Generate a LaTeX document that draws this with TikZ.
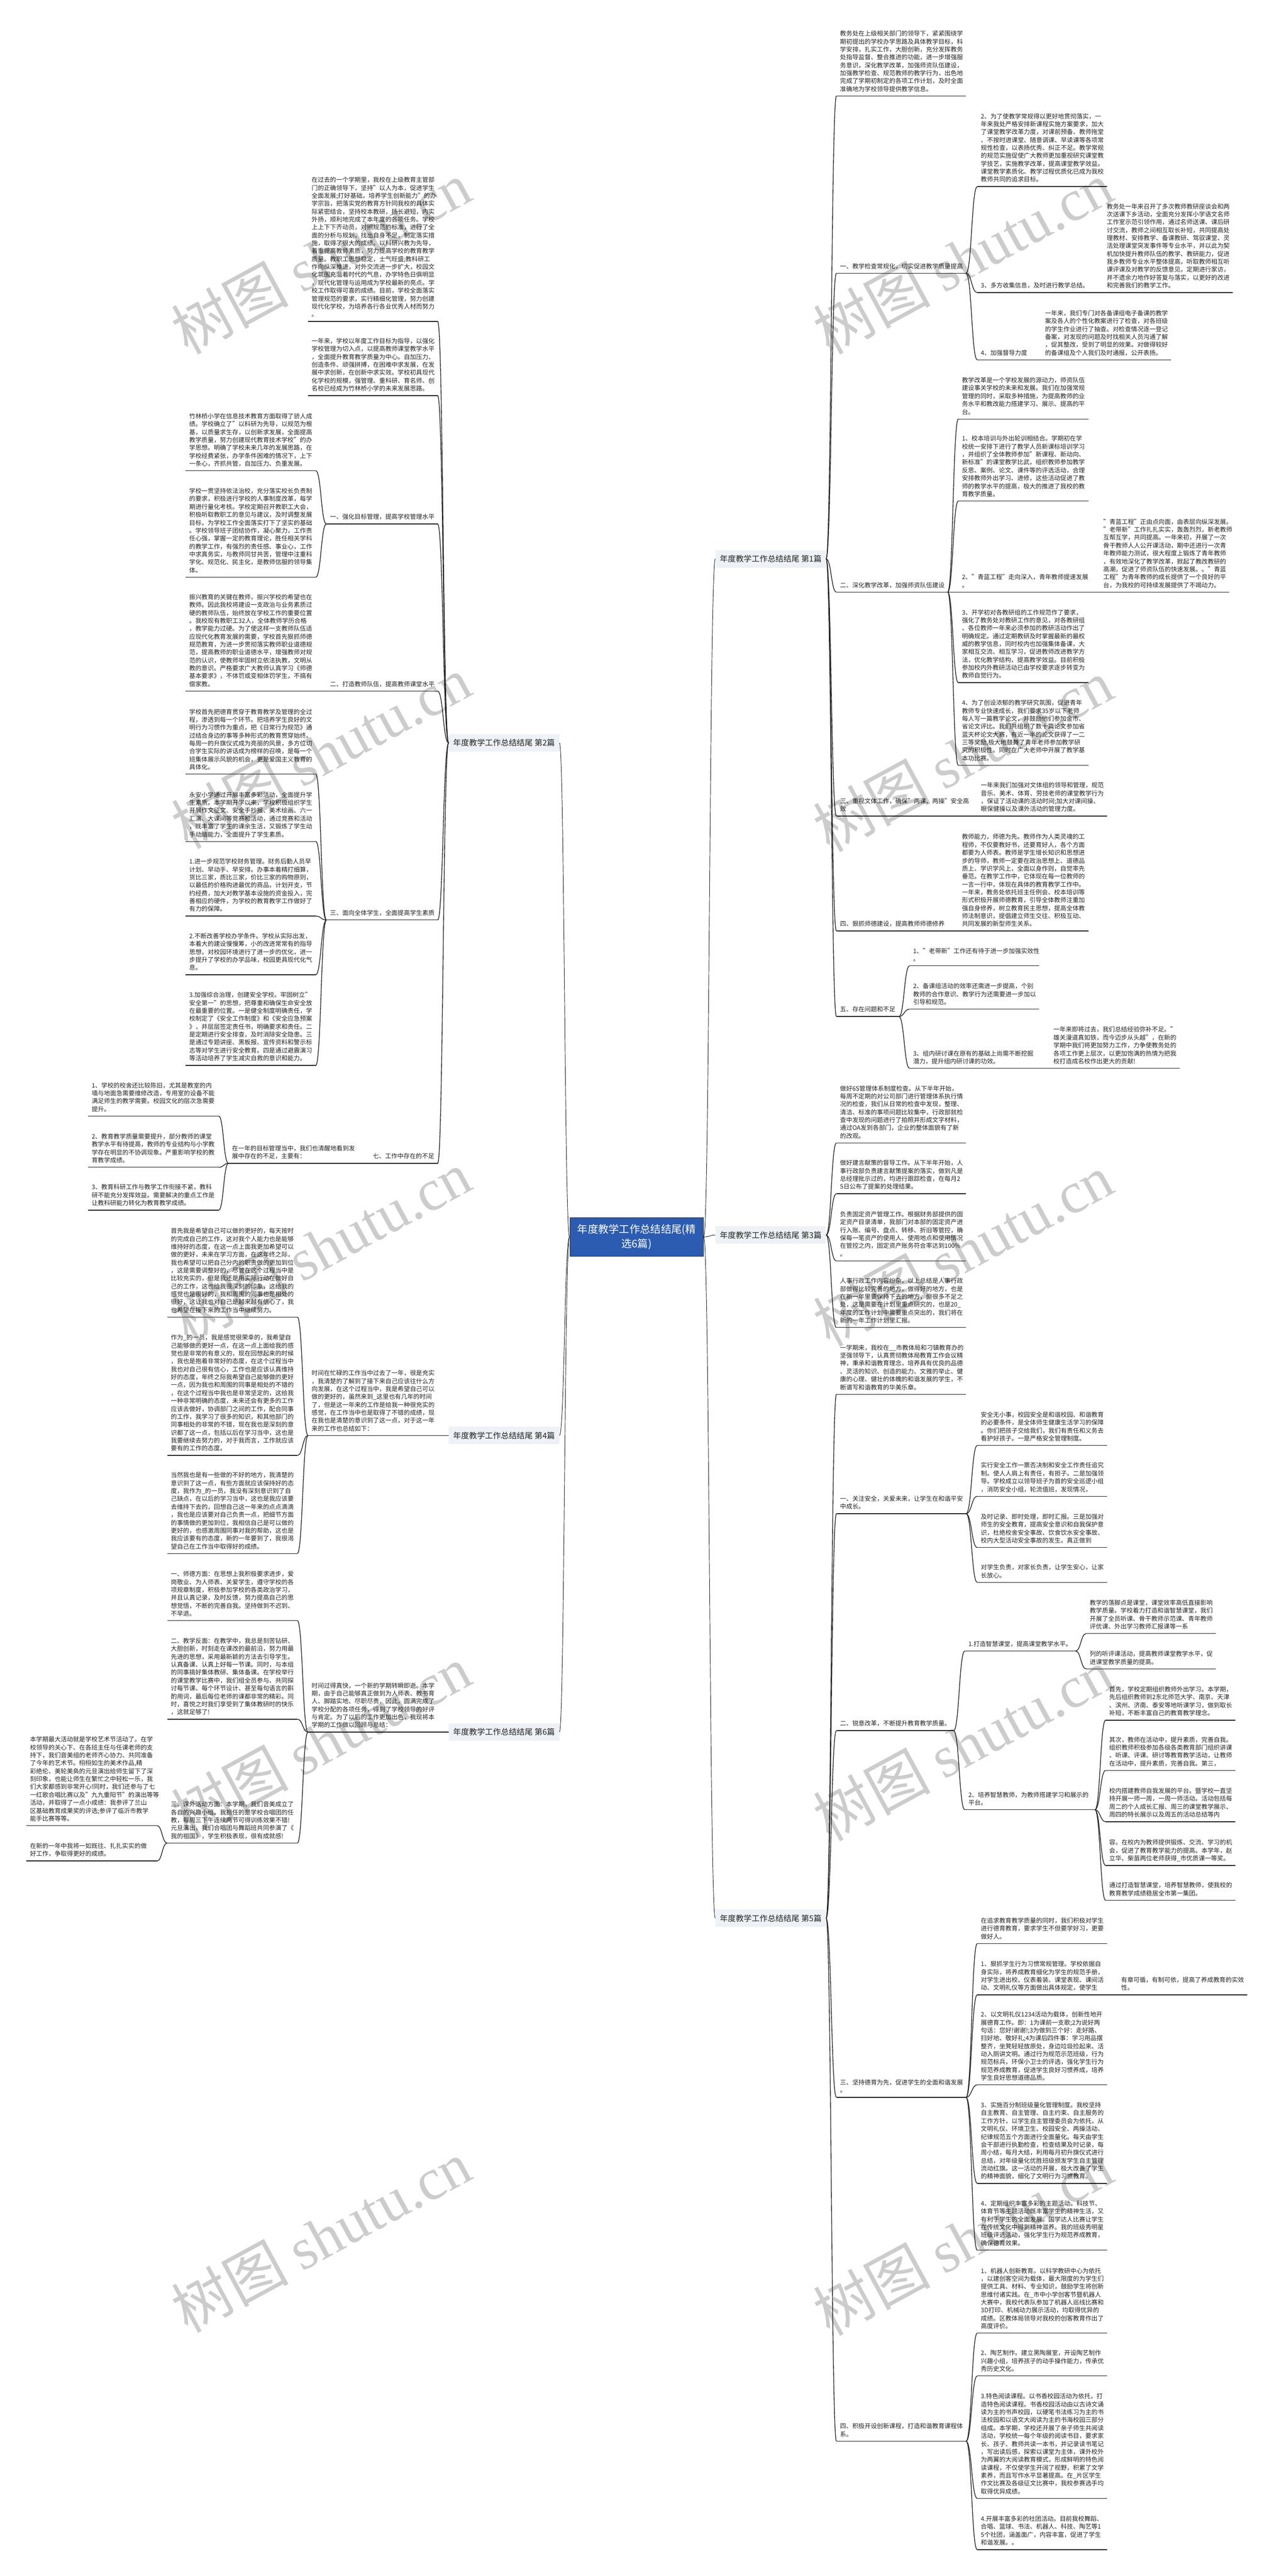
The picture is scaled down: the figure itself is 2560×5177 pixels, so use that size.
\documentclass[tikz,border=0pt]{standalone}
\usepackage{fontspec}
\setmainfont{Noto Sans CJK SC}
\newfontfamily\stamplatin{Liberation Serif}
\usetikzlibrary{calc}

\definecolor{rootblue}{RGB}{43,92,178}
\definecolor{partgray}{RGB}{238,241,245}
\definecolor{linedark}{RGB}{34,34,34}

\tikzset{
  rootbox/.style={draw=linedark!80!rootblue, line width=0.4pt, fill=rootblue, text=white, align=center,
    minimum width=269*0.02cm, minimum height=78*0.02cm, inner sep=0pt, font=\fontsize{11.95}{16.3}\selectfont},
  partbox/.style={fill=partgray, text=linedark, minimum width=222*0.02cm, minimum height=35*0.02cm,
    inner sep=0pt, font=\fontsize{9.1}{11}\selectfont},
  leafbox/.style={anchor=south west, align=left, text=linedark, inner xsep=7*0.02cm, inner ysep=2.5pt,
    font=\fontsize{7.03}{9.05}\selectfont, execute at end node=\strut},
  fork/.style={draw=linedark, line width=0.8pt},
  rootfork/.style={draw=linedark, line width=0.55pt},
  stamp/.style={rotate=28.5, text=black, text opacity=.2, inner sep=0pt, font=\fontsize{67}{70}\selectfont}
}

% text above a rule: name, left end, rule height, text width, lines
\newcommand{\leaf}[5]{
  \node[leafbox, text width=#4*0.02cm] (#1) at (#2,#3) {#5};
  \draw[fork] (#1.south west) -- (#1.south east);
}
\newcommand{\branch}[2]{\draw[fork] (#1) .. controls ($(#1)!.5!(#2 |- #1)$) and ($(#1 |- #2)!.5!(#2)$) .. (#2);}
\newcommand{\rlink}[2]{\branch{#1.south east}{#2.south west}}
\newcommand{\llink}[2]{\branch{#1.south west}{#2.south east}}
\newcommand{\rootlink}[3]{\draw[rootfork] (root.#2) .. controls ($(root.#2)!.5!(#1.#3 |- root.#2)$) and ($(root.#2 |- #1.#3)!.5!(#1.#3)$) .. (#1.#3);}

\begin{document}
\begin{tikzpicture}[x=0.02cm,y=-0.02cm]
\useasboundingbox (0,0) rectangle (2560,5177);

% Root and the six parts
\node[rootbox] (root) at (1279.5,2486) {年度教学工作总结结尾(精\\选6篇)};
\node[partbox] (p1) at (1549,1123) {年度教学工作总结结尾 第1篇};
\node[partbox] (p3) at (1549,2482) {年度教学工作总结结尾 第3篇};
\node[partbox] (p5) at (1549,3855) {年度教学工作总结结尾 第5篇};
\node[partbox] (p2) at (1013,1493) {年度教学工作总结结尾 第2篇};
\node[partbox] (p4) at (1013,2885) {年度教学工作总结结尾 第4篇};
\node[partbox] (p6) at (1013,3481) {年度教学工作总结结尾 第6篇};

% Part 1
\leaf{aa}{1681}{193}{246}{教务处在上级相关部门的领导下，紧紧围绕学\\期初提出的学校办学思路及具体教学目标，科\\学安排，扎实工作，大胆创新，充分发挥教务\\处指导监督、整合推进的功能，进一步增强服\\务意识，深化教学改革，加强师资队伍建设，\\加强教学检查、规范教师的教学行为，出色地\\完成了学期初制定的各项工作计划，及时全面\\准确地为学校领导提供教学信息。}
\leaf{ab}{1681}{549}{246}{一、教学检查常规化，切实促进教学质量提高}
\leaf{aba}{1964}{375}{246}{2、为了使教学常规得以更好地贯彻落实，一\\年来我处严格安排新课程实施方案要求，加大\\了课堂教学改革力度，对课前预备、教师拖堂\\、不按时进课堂、随意调课、早读课等各项常\\规性检查，以表扬优秀、纠正不足。教学常规\\的规范实施促使广大教师更加重视研究课堂教\\学技艺，实施教学改革，提高课堂教学效益。\\课堂教学素质化、教学过程优质化已成为我校\\教师共同的追求目标。}
\leaf{abb}{1964}{588}{239}{3、多方收集信息，及时进行教学总结。}
\leaf{abb1}{2217}{588}{246}{教务处一年来召开了多次教师教研座谈会和两\\次送课下乡活动，全面充分发挥小学语文名师\\工作室示范引领作用，通过名师送课、课后研\\讨交流，教师之间相互取长补短，共同提高处\\理教材、安排教学、备课教研、驾驭课堂、灵\\活处理课堂突发事件等专业水平，并以此为契\\机加快提升教师队伍的教学、教研能力，促进\\我乡教师专业水平整体提高，听取教师相互听\\课评课及对教学的反馈意见，定期进行家访，\\并不遗余力地作好答复与落实，以更好的改进\\和完善我们的教学工作。}
\leaf{abc}{1964}{723}{115}{4、加强督导力度}
\leaf{abc1}{2093}{723}{246}{一年来，我们专门对各备课组电子备课的教学\\案及各人的个性化教案进行了检查，对各班级\\的学生作业进行了抽查。对检查情况逐一登记\\备案，对发现的问题及时找相关人员沟通了解\\，促其整改，受到了明显的效果。对做得较好\\的备课组及个人我们及时通报，公开表扬。}
\leaf{ac}{1681}{1190}{209}{二、深化教学改革，加强师资队伍建设}
\leaf{aca}{1926}{842}{247}{教学改革是一个学校发展的源动力，师资队伍\\建设事关学校的未来和发展。我们在加强常规\\管理的同时，采取多种措施，为提高教师的业\\务水平和教改能力搭建学习、展示、提高的平\\台。}
\leaf{acb}{1926}{1007}{247}{1、校本培训与外出轮训相结合。学期初在学\\校统一安排下进行了教学人员新课标培训学习\\，并组织了全体教师参加"新课程、新动向、\\新标准"的课堂教学比武，组织教师参加教学\\反思、案例、论文、课件等的评选活动，合理\\安排教师外出学习、进修，这些活动促进了教\\师的教学水平的提高，极大的推进了我校的教\\育教学质量。}
\leaf{acc}{1926}{1190}{247}{2、"青蓝工程"走向深入，青年教师提速发展\\。}
\leaf{acc1}{2210}{1190}{246}{"青蓝工程"正由点向面，由表层向纵深发展。\\"老带新"工作扎扎实实，轰轰烈烈，新老教师\\互帮互学，共同提高。一年来初，开展了一次\\骨干教师人人公开课活动，期中还进行一次青\\年教师能力测试，很大程度上锻炼了青年教师\\，有效地深化了教学改革，掀起了教改教研的\\高潮，促进了师资队伍的快速发展。。"青蓝\\工程"为青年教师的成长提供了一个良好的平\\台，为我校的可持续发展提供了不竭动力。}
\leaf{acd}{1926}{1372}{247}{3、开学初对各教研组的工作规范作了要求，\\强化了教务处对教研工作的意见，对各教研组\\、各位教师一年来必须参加的教研活动作出了\\明确规定。通过定期教研及时掌握最新的最权\\威的教学信息，同时校内也加强集体备课，大\\家相互交流、相互学习，促进教师改进教学方\\法，优化教学结构，提高教学效益。目前积极\\参加校内外教研活动已由学校要求逐步转变为\\教师自觉行为。}
\leaf{ace}{1926}{1538}{247}{4、为了创设浓郁的教学研究氛围，促进青年\\教师专业快速成长，我们要求35岁以下老师\\每人写一篇教学论文，并鼓励他们参加金市、\\省论文评比。我们共组织了数十篇论文参加省\\蓝天杯论文大赛，有近一半的论文获得了一二\\三等奖励,极大地鼓舞了青年老师参加教学研\\究的积极性。同时在广大老师中开展了教学基\\本功比赛。}
\leaf{ad}{1681}{1640}{246}{三、重视文体工作，确保"两课、两操"安全高\\效}
\leaf{ad1}{1964}{1640}{246}{一年来我们加强对文体组的领导和管理，规范\\音乐、美术、体育、劳技老师的课堂教学行为\\，保证了活动课的活动时间;加大对课间操、\\眼保健操以及课外活动的管理力度。}
\leaf{ae}{1681}{1871}{209}{四、狠抓师德建设，提高教师师德修养}
\leaf{ae1}{1926}{1871}{247}{教师能力，师德为先。教师作为人类灵魂的工\\程师，不仅要教好书，还要育好人，各个方面\\都要为人师表。教师是学生增长知识和思想进\\步的导师，教师一定要在政治思想上、道德品\\质上、学识学风上，全面以身作则，自觉率先\\垂范。在教学工作中，它体现在每一位教师的\\一言一行中，体现在具体的教育教学工作中。\\一年来，教务处依托班主任例会、校本培训等\\形式积极开展师德教育，引导全体教师注重加\\强自身修养，树立教育民主思想，提高全体教\\师法制意识，提倡建立师生交往、积极互动、\\共同发展的新型师生关系。}
\leaf{af}{1681}{2043}{111}{五、存在问题和不足}
\leaf{afa}{1828}{1941}{246}{1、"老带新"工作还有待于进一步加强实效性\\。}
\leaf{afb}{1828}{2028}{246}{2、备课组活动的效率还需进一步提高，个别\\教师的合作意识、教学行为还需要进一步加以\\引导和规范。}
\leaf{afc}{1828}{2147}{246}{3、组内研讨课在原有的基础上尚需不断挖掘\\潜力，提升组内研讨课的功效。}
\leaf{afc1}{2110}{2147}{246}{一年来即将过去，我们总结经验弥补不足。"\\雄关漫道真如铁，而今迈步从头越"，在新的\\学期中我们将更加努力工作，力争使教务处的\\各项工作更上层次，以更加饱满的热情为把我\\校打造成名校作出更大的贡献!}

% Part 3
\leaf{ca}{1681}{2297}{246}{做好6S管理体系制度检查。从下半年开始，\\每周不定期的对公司部门进行管理体系执行情\\况的检查，我们从日常的检查中发现，整理、\\清洁、标准的事项问题比较集中，行政部就检\\查中发现的问题进行了拍照并形成文字材料，\\通过OA发到各部门，企业的整体面貌有了新\\的改观。}
\leaf{cb}{1681}{2399}{246}{做好建言献策的督导工作。从下半年开始，人\\事行政部负责建言献策提案的落实，做到凡是\\总经理批示过的，均进行跟踪检查，在每月2\\5日公布了提案的处理结果。}
\leaf{cc}{1681}{2534}{246}{负责固定资产管理工作。根据财务部提供的固\\定资产目录清单，我部门对本部的固定资产进\\行入账、编号、盘点、转移、折旧等管控，确\\保每一笔资产的使用人、使用地点和使用情况\\在管控之内，固定资产账务符合率达到100\%\\。}
\leaf{cd}{1681}{2668}{246}{人事行政工作内容纷杂，以上总结是人事行政\\部做得比较完善的地方，做得好的地方，也是\\在新一年里要保持下去的地方，但很多不足之\\处，这是需要在计划里重点研究的，也是20\_\\年度的工作计划中需要重点突出的，我们将在\\新的一年工作计划里汇报。}

% Part 5
\leaf{ea}{1681}{2802}{246}{一学期来，我校在\_\_市教体局和刁镇教育办的\\坚强领导下，认真贯彻教体局教育工作会议精\\神，秉承和谐教育理念，培养具有优良的品德\\、灵活的知识、创造的能力、文雅的举止、健\\康的心理、健壮的体魄的和谐发展的学生，不\\断谱写和谐教育的华美乐章。}
\leaf{eb}{1681}{3042}{246}{一、关注安全，关爱未来，让学生在和谐平安\\中成长。}
\leaf{eba}{1964}{2905}{246}{安全无小事，校园安全是和谐校园、和谐教育\\的必要条件，是全体师生健康生活学习的保障\\。你们把孩子交给我们，我们有责任和义务去\\看护好孩子。一是严格安全管理制度。}
\leaf{ebb}{1964}{3007}{246}{实行安全工作一票否决制和安全工作责任追究\\制。使人人肩上有责任，有担子。二是加强领\\导。学校成立以领导班子为首的安全巡逻小组\\，消防安全小组，轮流值班，发现情况，}
\leaf{ebc}{1964}{3110}{246}{及时记录、即时处理，即时汇报。三是加强对\\师生的安全教育，提高安全意识和自我保护意\\识，杜绝校舍安全事故、饮食饮水安全事故、\\校内大型活动安全事故的发生。真正做到}
\leaf{ebd}{1964}{3180}{246}{对学生负责，对家长负责，让学生安心，让家\\长放心。}
\leaf{ec}{1681}{3478}{221}{二、锐意改革，不断提升教育教学质量。}
\leaf{eca}{1939}{3318}{208}{1.打造智慧课堂，提高课堂教学水平。}
\leaf{eca1}{2183}{3283}{246}{教学的落脚点是课堂，课堂效率高低直接影响\\教学质量。学校着力打造和谐智慧课堂，我们\\开展了全员听课、骨干教师示范课、青年教师\\评优课、外出学习教师汇报课等一系}
\leaf{eca2}{2183}{3354}{246}{列的听评课活动，提高教师课堂教学水平，促\\进课堂教学质量的提高。}
\leaf{ecb}{1939}{3637}{247}{2、培养智慧教师，为教师搭建学习和展示的\\平台。}
\leaf{ecb1}{2222}{3457}{246}{首先，学校定期组织教师外出学习。本学期，\\先后组织教师到2东北师范大学、南京、天津\\、滨州、济南、泰安等地听课学习，做到取长\\补短，不断丰富自己的教育教学理念。}
\leaf{ecb2}{2222}{3558}{246}{其次，教师在活动中，提升素质，完善自我。\\组织教师积极参加各级各类教育部门组织讲课\\、听课、评课、研讨等教育教学活动，让教师\\在活动中，提升素质，完善自我。第三，}
\leaf{ecb3}{2222}{3661}{246}{校内搭建教师自我发展的平台。暨学校一直坚\\持开展一师一周，一周一师活动。活动包括每\\周二的个人成长汇报、周三的课堂教学展示、\\周四的特长展示以及周五的活动总结等内}
\leaf{ecb4}{2222}{3749}{246}{容。在校内为教师提供锻炼、交流、学习的机\\会，促进了教育教学能力的提高。本学年，赵\\立华、柴苗两位老师获得\_市优质课一等奖。}
\leaf{ecb5}{2222}{3819}{246}{通过打造智慧课堂，培养智慧教师，使我校的\\教育教学成绩稳居全市第一集团。}
\leaf{ed}{1681}{4215}{246}{三、坚持德育为先，促进学生的全面和谐发展\\。}
\leaf{eda}{1964}{3906}{246}{在追求教育教学质量的同时，我们积极对学生\\进行德育教育，要求学生不但要学好习，更要\\做好人。}
\leaf{edb}{1964}{4009}{246}{1、狠抓学生行为习惯常规管理。学校依据自\\身实际，将养成教育细化为学生的规范手册，\\对学生进出校、仪表着装、课堂表现、课间活\\动、文明礼仪等方面做出具体规定，使学生}
\leaf{edb1}{2246}{4009}{246}{有章可循，有制可依，提高了养成教育的实效\\性。}
\leaf{edc}{1964}{4190}{246}{2、以文明礼仪1234活动为载体，创新性地开\\展德育工作。即：1为课前一支歌;2为说好两\\句话：您好!谢谢!;3为做到三个好：走好路、\\扫好地、敬好礼;4为课后四件事：学习用品摆\\整齐，坐凳轻轻放原处，身边垃圾捡起来、活\\动入厕讲文明。通过行为规范示范班级，行为\\规范标兵，环保小卫士的评选，强化学生行为\\规范养成教育，促进学生良好习惯养成，培养\\学生良好思想道德品质。}
\leaf{edd}{1964}{4388}{246}{3、实施百分制班级量化管理制度。我校坚持\\自主教育、自主管理、自主约束、自主服务的\\工作方针，以学生自主管理委员会为依托，从\\文明礼仪、环境卫生、校园安全、两操活动、\\纪律规范五个方面进行全面量化。每天由学生\\会干部进行执勤检查，检查结果及时记录，每\\周小结，每月大结，利用每月初升旗仪式进行\\总结，对年级量化优胜班级颁发学生自主管理\\流动红旗。这一活动的开展，极大改善了学生\\的精神面貌，细化了文明行为习惯教育。}
\leaf{ede}{1964}{4522}{246}{4、定期组织丰富多彩的主题活动。科技节、\\体育节等主题活动既丰富学生的精神生活，又\\有利于学生的全面发展。国学达人比赛让学生\\在传统文化中得到精神滋养。我的班级秀明星\\班级评选活动，强化学生行为规范养成教育，\\确保德育效果。}
\leaf{ee}{1681}{4906}{246}{四、积极开设创新课程，打造和谐教育课程体\\系。}
\leaf{eea}{1964}{4689}{246}{1、机器人创新教育。以科学教研中心为依托\\，以建创客空间为载体，最大限度的为学生们\\提供工具、材料、专业知识，鼓励学生将创新\\思维付诸实践。在\_市中小学创客节暨机器人\\大赛中，我校代表队参加了机器人巡线比赛和\\3D打印、机械动力展示活动，均取得优异的\\成绩。区教体局领导对我校的创客教育作出了\\高度评价。}
\leaf{eeb}{1964}{4775}{246}{2、陶艺制作。建立黑陶展室，开设陶艺制作\\兴趣小组，培养孩子的动手操作能力，传承优\\秀历史文化。}
\leaf{eec}{1964}{5021}{246}{3.特色阅读课程。以书香校园活动为依托，打\\造特色阅读课程。书香校园活动由以古诗文诵\\读为主的书声校园，以硬笔书法练习为主的书\\法校园和以语文大阅读为主的书海校园三部分\\组成。本学期，学校还开展了亲子师生共阅读\\活动，学校统一每个年级的阅读书目，要求家\\长、孩子、教师共读一本书，并记录读书笔记\\，写出读后感，探索以课堂为主体，课外校外\\为两翼的大阅读教育模式，形成鲜明的特色阅\\读课程，不仅使学生开阔了视野，积累了文学\\素养，而且写作水平显著提高。在\_片区学生\\作文比赛及各级征文比赛中，我校参赛选手均\\取得优异成绩。}
\leaf{eed}{1964}{5124}{246}{4.开展丰富多彩的社团活动。目前我校舞蹈、\\合唱、篮球、书法、机器人、科技、陶艺等1\\5个社团，涵盖面广，内容丰富，促进了学生\\和谐发展。。}

% Part 2
\leaf{ba}{619}{646}{246}{在过去的一个学期里，我校在上级教育主管部\\门的正确领导下，坚持"以人为本，促进学生\\全面发展;打好基础，培养学生创新能力"的办\\学宗旨，把落实党的教育方针同我校的具体实\\际紧密结合，坚持校本教研，扬长避短，内实\\外扬，顺利地完成了本年度的各项任务。学校\\上上下下齐动员，对照规范的标准，进行了全\\面的分析与规划，找出自身不足，制定落实措\\施，取得了很大的成绩。以科研兴教为先导，\\着重提高教师素质，努力提高学校的教育教学\\质量。教职工思想稳定，士气旺盛;教科研工\\作向纵深推进，对外交流进一步扩大，校园文\\化氛围充溢着时代的气息，办学特色日俱明显\\，现代化管理与运用成为学校最新的亮点。学\\校工作取得可喜的成绩。目前，学校全面落实\\管理规范的要求，实行精细化管理，努力创建\\现代化学校，为培养各行各业优秀人材而努力\\。}
\leaf{bb}{619}{795}{246}{一年来，学校以年度工作目标为指导，以强化\\学校管理为切入点，以提高教师课堂教学水平\\，全面提升教育教学质量为中心。自加压力、\\创造条件、顽强拼搏，在困难中求发展，在发\\展中求创新，在创新中求实效。学校初具现代\\化学校的规模，强管理、重科研、育名师、创\\名校已经成为竹林桥小学的未来发展思路。}
\leaf{bc}{656}{1053}{209}{一、强化目标管理，提高学校管理水平}
\leaf{bca}{373}{946}{247}{竹林桥小学在信息技术教育方面取得了骄人成\\绩。学校确立了"以科研为先导，以规范为根\\基，以质量求生存，以创新求发展，全面提高\\教学质量，努力创建现代教育技术学校"的办\\学思想。明确了学校未来几年的发展思路，在\\学校经费紧张，办学条件困难的情况下，上下\\一条心，齐抓共管，自加压力、负重发展。}
\leaf{bcb}{373}{1160}{247}{学校一贯坚持依法治校，充分落实校长负责制\\的要求，积极进行学校的人事制度改革，每学\\期进行量化考核。学校定期召开教职工大会，\\积极听取教职工的意见与建议，及时调整发展\\目标，为学校工作全面落实打下了坚实的基础\\。学校领导班子团结协作，凝心聚力，工作责\\任心强，掌握一定的教育理论，胜任相关学科\\的教学工作，有强烈的责任感、事业心，工作\\中求真务实，与教师同甘共苦，管理中注重科\\学化、规范化、民主化，是教师信服的领导集\\体。}
\leaf{bd}{656}{1389}{209}{二、打造教师队伍，提高教师课堂水平}
\leaf{bd1}{373}{1389}{247}{振兴教育的关键在教师，振兴学校的希望也在\\教师。因此我校将建设一支政治与业务素质过\\硬的教师队伍，始终放在学校工作的重要位置\\。我校现有教职工32人，全体教师学历合格\\，教学能力过硬。为了使这样一支教师队伍适\\应现代化教育发展的需要，学校首先狠抓师德\\规范教育，为进一步贯彻落实教师职业道德规\\范，提高教师的职业道德水平，增强教师对规\\范的认识，使教师牢固树立依法执教，文明从\\教的意识。严格要求广大教师认真学习《师德\\基本要求》，不体罚或变相体罚学生，不搞有\\偿家教。}
\leaf{be}{656}{1849}{209}{三、面向全体学生，全面提高学生素质}
\leaf{bea}{373}{1556}{247}{学校首先把德育贯穿于教育教学及管理的全过\\程，渗透到每一个环节。把培养学生良好的文\\明行为习惯作为重点，把《日常行为规范》通\\过结合身边的事等多种形式的教育贯穿始终。\\每周一的升旗仪式成为亮丽的风景，多方位切\\合学生实际的讲话成为榜样的召唤，是每一个\\班集体展示风貌的机会，更是爱国主义教育的\\具体化。}
\leaf{beb}{373}{1691}{247}{永安小学通过开展丰富多彩活动，全面提升学\\生素质。本学期开学以来，学校积极组织学生\\开展作文征文、安全手抄报、美术绘画、六一\\汇演、大课间等竞赛和活动，通过竞赛和活动\\，既丰富了学生的课余生活，又锻炼了学生动\\手动脑能力，全面提升了学生素质。}
\leaf{bec}{373}{1841}{247}{1.进一步规范学校财务管理。财务后勤人员早\\计划、早动手、早安排。办事本着精打细算，\\货比三家，质比三家，价比三家的购物原则，\\以最低的价格购进最优的商品，计划开支，节\\约经费，加大对教学基本设施的资金投入，完\\善相应的硬件，为学校的教育教学工作做好了\\有力的保障。}
\leaf{bed}{373}{1959}{247}{2.不断改善学校办学条件。学校从实际出发，\\本着大的建设慢慢筹，小的改进常常有的指导\\思想，对校园环境进行了进一步的优化，进一\\步提升了学校的办学品味，校园更具现代化气\\息。}
\leaf{bee}{373}{2141}{247}{3.加强综合治理，创建安全学校。牢固树立"\\安全第一"的思想，把尊重和确保生命安全放\\在最重要的位置。一是健全制度明确责任，学\\校制定了《安全工作制度》和《安全应急预案\\》，并层层签定责任书，明确要求和责任。二\\是定期进行安全排查，及时消除安全隐患。三\\是通过专题讲座、黑板报、宣传资料和警示标\\志等对学生进行安全教育。四是通过避震演习\\等活动培养了学生减灾自救的意识和能力。}
\leaf{bf}{742}{2338}{123}{七、工作中存在的不足}
\leaf{bf1}{459}{2338}{246}{在一年的目标管理当中，我们也清醒地看到发\\展中存在的不足，主要有：}
\leaf{bfa}{177}{2243}{248}{1、学校的校舍还比较陈旧，尤其是教室的内\\墙与地面急需要维修改造，专用室的设备不能\\满足师生的教学需要。校园文化的层次急需要\\提升。}
\leaf{bfb}{177}{2346}{248}{2、教育教学质量需要提升，部分教师的课堂\\教学水平有待提高，教师的专业结构与小学教\\学存在明显的不协调现象。严重影响学校的教\\育教学成绩。}
\leaf{bfc}{177}{2432}{248}{3、教育科研工作与教学工作衔接不紧，教科\\研不能充分发挥效益。需要解决的重点工作是\\让教科研能力转化为教育教学成绩。}

% Part 4
\leaf{da}{619}{2885}{246}{时间在忙碌的工作当中过去了一年，很是充实\\，我清楚的了解到了接下来自己应该往什么方\\向发展，在这个过程当中，我是希望自己可以\\做的更好的，虽然来到\_这里也有几年的时间\\了，但是这一年来的工作是给我一种很充实的\\感觉，在工作当中也是取得了不错的成绩，现\\在我也是清楚的意识到了这一点，对于这一年\\来的工作也总结如下：}
\leaf{daa}{336}{2647}{247}{首先我是希望自己可以做的更好的，每天按时\\的完成自己的工作，这对我个人能力也是能够\\维持好的态度，在这一点上面我更加希望可以\\做的更好，未来在学习方面，在这年终之际，\\我也希望可以把自己分内的职责做的更加到位\\，这是需要调整好的，尽管在这个过程当中是\\比较充实的，但是我还是用实际行动在做好自\\己的工作，这也给我很深刻的印象，这给我的\\感觉也是很好的，我和周围的同事也是相处的\\很好，这让我也对自己是越来越有信心了，我\\也希望在接下来的工作当中继续努力。}
\leaf{dab}{336}{2925}{247}{作为\_的一员，我是感觉很荣幸的，我希望自\\己能够做的更好一点，在这一点上面给我的感\\觉也是非常的有意义的，现在回想起来的时候\\，我也是抱着非常好的态度，在这个过程当中\\我也对自己很有信心，工作也是应该认真维持\\好的态度，年终之际我希望自己能够做的更好\\一点，因为我也和周围的同事是相处的不错的\\，在这个过程当中我也是非常坚定的，这给我\\一种非常明确的态度，未来还会有更多的工作\\应该去做好，协调部门之间的工作，配合同事\\的工作，我学习了很多的知识，和其他部门的\\同事相处的非常的不错，现在我也是深刻的意\\识都了这一点，包括以后在学习当中，这也是\\我要继续去努力的，对于我而言，工作就应该\\要有的工作的态度。}
\leaf{dac}{336}{3122}{247}{当然我也是有一些做的不好的地方，我清楚的\\意识到了这一点，有些方面就应该保持好的态\\度，我作为\_的一员，我没有深刻意识到了自\\己缺点，在以后的学习当中，这也是我应该要\\去维持下去的，回想自己这一年来的点点滴滴\\，我也是应该要对自己负责一点，把细节方面\\的事情做的更加到位，我相信自己是可以做的\\更好的，也感激周围同事对我的帮助，这也是\\我应该要有的态度，新的一年要到了，我很渴\\望自己在工作当中取得好的成绩。}

% Part 6
\leaf{fa}{619}{3481}{246}{时间过得真快，一个新的学期转瞬即逝。本学\\期，由于自己能够真正做到为人师表、教书育\\人、脚踏实地、尽职尽责，因此，圆满完成了\\学校分配的各项任务，得到了学校领导的好评\\与肯定。为了以后的工作更加出色，我现将本\\学期的工作做以回顾与总结：}
\leaf{faa}{336}{3257}{247}{一、师德方面：在思想上我积极要求进步，爱\\岗敬业、为人师表、关爱学生，遵守学校的各\\项规章制度，积极参加学校的各类政治学习，\\并且认真记录，及时反馈，努力提高自己的思\\想觉悟，不断的完善自我。坚持做到不迟到、\\不早退。}
\leaf{fab}{336}{3455}{247}{二、教学反面：在教学中，我总是刻苦钻研、\\大胆创新，时刻走在课改的最前沿，努力用最\\先进的思想，采用最新颖的方法去引导学生。\\认真备课、认真上好每一节课。同时，与本组\\的同事搞好集体教研、集体备课。在学校举行\\的课堂教学比赛中，我们组全员参与、共同探\\讨每节课、每个环节设计、甚至每句语言的斟\\酌用词，最后每位老师的课都非常的精彩。同\\时，喜悦之时我们享受到了集体教研时的快乐\\，这就足够了!}
\leaf{fac}{336}{3704}{247}{三、课外活动方面：本学期，我们音美成立了\\各自的兴趣小组。我担任的是学校合唱团的任\\教，每周三下午连续两节可得训练效果不错!\\元旦演出，我们合唱团与舞蹈班共同参演了《\\我的祖国》，学生积极表现，很有成就感!}
\leaf{faca}{53}{3669}{248}{本学期最大活动就是学校艺术节活动了。在学\\校领导的关心下、在各班主任与任课老师的支\\持下，我们音美组的老师齐心协力、共同准备\\了今年的艺术节。栩栩如生的美术作品,精\\彩绝伦、美轮美奂的元旦演出给师生留下了深\\刻印象，也能让师生在繁忙之中轻松一乐，我\\们大家都感到非常开心!同时，我们还参与了七\\一红歌合唱比赛以及"九九重阳节"的演出等等\\活动，并取得了一点小成绩：我参评了兰山\\区基础教育成果奖的评选;参评了临沂市教学\\能手比赛等等。}
\leaf{facb}{53}{3740}{248}{在新的一年中我将一如既往、扎扎实实的做\\好工作，争取得更好的成绩。}

% Connectors from the root
\rootlink{p1}{east}{west}
\rootlink{p3}{east}{west}
\rootlink{p5}{east}{west}
\rootlink{p2}{west}{east}
\rootlink{p4}{west}{east}
\rootlink{p6}{west}{east}

% Connectors, part 1
\branch{p1.east}{aa.south west}
\branch{p1.east}{ab.south west}
\branch{p1.east}{ac.south west}
\branch{p1.east}{ad.south west}
\branch{p1.east}{ae.south west}
\branch{p1.east}{af.south west}
\rlink{ab}{aba}
\rlink{ab}{abb}
\rlink{ab}{abc}
\rlink{abb}{abb1}
\rlink{abc}{abc1}
\rlink{ac}{aca}
\rlink{ac}{acb}
\rlink{ac}{acc}
\rlink{ac}{acd}
\rlink{ac}{ace}
\rlink{acc}{acc1}
\rlink{ad}{ad1}
\rlink{ae}{ae1}
\rlink{af}{afa}
\rlink{af}{afb}
\rlink{af}{afc}
\rlink{afc}{afc1}

% Connectors, part 3
\branch{p3.east}{ca.south west}
\branch{p3.east}{cb.south west}
\branch{p3.east}{cc.south west}
\branch{p3.east}{cd.south west}

% Connectors, part 5
\branch{p5.east}{ea.south west}
\branch{p5.east}{eb.south west}
\branch{p5.east}{ec.south west}
\branch{p5.east}{ed.south west}
\branch{p5.east}{ee.south west}
\rlink{eb}{eba}
\rlink{eb}{ebb}
\rlink{eb}{ebc}
\rlink{eb}{ebd}
\rlink{ec}{eca}
\rlink{ec}{ecb}
\rlink{eca}{eca1}
\rlink{eca}{eca2}
\rlink{ecb}{ecb1}
\rlink{ecb}{ecb2}
\rlink{ecb}{ecb3}
\rlink{ecb}{ecb4}
\rlink{ecb}{ecb5}
\rlink{ed}{eda}
\rlink{ed}{edb}
\rlink{ed}{edc}
\rlink{ed}{edd}
\rlink{ed}{ede}
\rlink{edb}{edb1}
\rlink{ee}{eea}
\rlink{ee}{eeb}
\rlink{ee}{eec}
\rlink{ee}{eed}

% Connectors, part 2
\branch{p2.west}{ba.south east}
\branch{p2.west}{bb.south east}
\branch{p2.west}{bc.south east}
\branch{p2.west}{bd.south east}
\branch{p2.west}{be.south east}
\branch{p2.west}{bf.south east}
\llink{bc}{bca}
\llink{bc}{bcb}
\llink{bd}{bd1}
\llink{be}{bea}
\llink{be}{beb}
\llink{be}{bec}
\llink{be}{bed}
\llink{be}{bee}
\llink{bf}{bf1}
\llink{bf1}{bfa}
\llink{bf1}{bfb}
\llink{bf1}{bfc}

% Connectors, parts 4 and 6
\branch{p4.west}{da.south east}
\llink{da}{daa}
\llink{da}{dab}
\llink{da}{dac}
\branch{p6.west}{fa.south east}
\llink{fa}{faa}
\llink{fa}{fab}
\llink{fa}{fac}
\llink{fac}{faca}
\llink{fac}{facb}

% Watermark
\node[stamp] (wa) at (645,518) {树图 {\stamplatin shutu.cn}};
\node[stamp] (wb) at (645,1512) {树图 {\stamplatin shutu.cn}};
\node[stamp] (wc) at (645,2506) {树图 {\stamplatin shutu.cn}};
\node[stamp] (wd) at (645,3500) {树图 {\stamplatin shutu.cn}};
\node[stamp] (we) at (645,4494) {树图 {\stamplatin shutu.cn}};
\node[stamp] (wf) at (1935,518) {树图 {\stamplatin shutu.cn}};
\node[stamp] (wg) at (1935,1518) {树图 {\stamplatin shutu.cn}};
\node[stamp] (wh) at (1935,2512) {树图 {\stamplatin shutu.cn}};
\node[stamp] (wi) at (1935,3506) {树图 {\stamplatin shutu.cn}};
\node[stamp] (wj) at (1935,4500) {树图 {\stamplatin shutu.cn}};
\end{tikzpicture}
\end{document}
